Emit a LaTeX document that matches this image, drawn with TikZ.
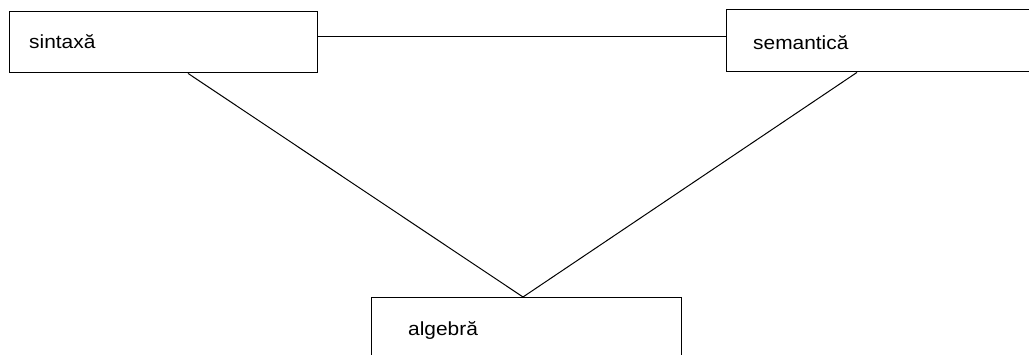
\documentclass[tikz,border=0pt]{standalone}
\usepackage{fontspec}
\setmainfont{Liberation Sans}
\newfontfamily\lblfont[FakeStretch=1.1]{Liberation Sans}
\begin{document}
\begin{tikzpicture}[x=1pt,y=-1pt,
  box/.style={draw=black, line width=1.4pt, rectangle, inner sep=0pt, anchor=north west},
  lbl/.style={anchor=base west, inner sep=0pt, font=\lblfont\fontsize{19}{22}\selectfont},
  link/.style={draw=black, line width=1pt}]
  \useasboundingbox (0,0) rectangle (1029,355);
  \clip (0,0) rectangle (1029,355);
  \fill[white] (0,0) rectangle (1029,355);
  % boxes (the right and the lower ones run past the edge)
  \node[box, minimum width=308pt, minimum height=61pt] (syn) at (9,11) {};
  \node[box, minimum width=320pt, minimum height=62pt] (sem) at (726,9) {};
  \node[box, minimum width=310pt, minimum height=80pt] (alg) at (371,297) {};
  % labels
  \node[lbl] (synt) at (29,49) {sintaxă};
  \node[lbl] (semt) at (753,50) {semantică};
  \node[lbl] (algt) at (408,336) {algebră};
  % connectors
  \draw[link] (syn.east |- 0,37) -- (sem.west |- 0,37);
  \draw[link] ([xshift=179pt]syn.south west) -- ([xshift=152pt]alg.north west);
  \draw[link] ([xshift=131pt]sem.south west) -- ([xshift=152pt]alg.north west);
\end{tikzpicture}
\end{document}
